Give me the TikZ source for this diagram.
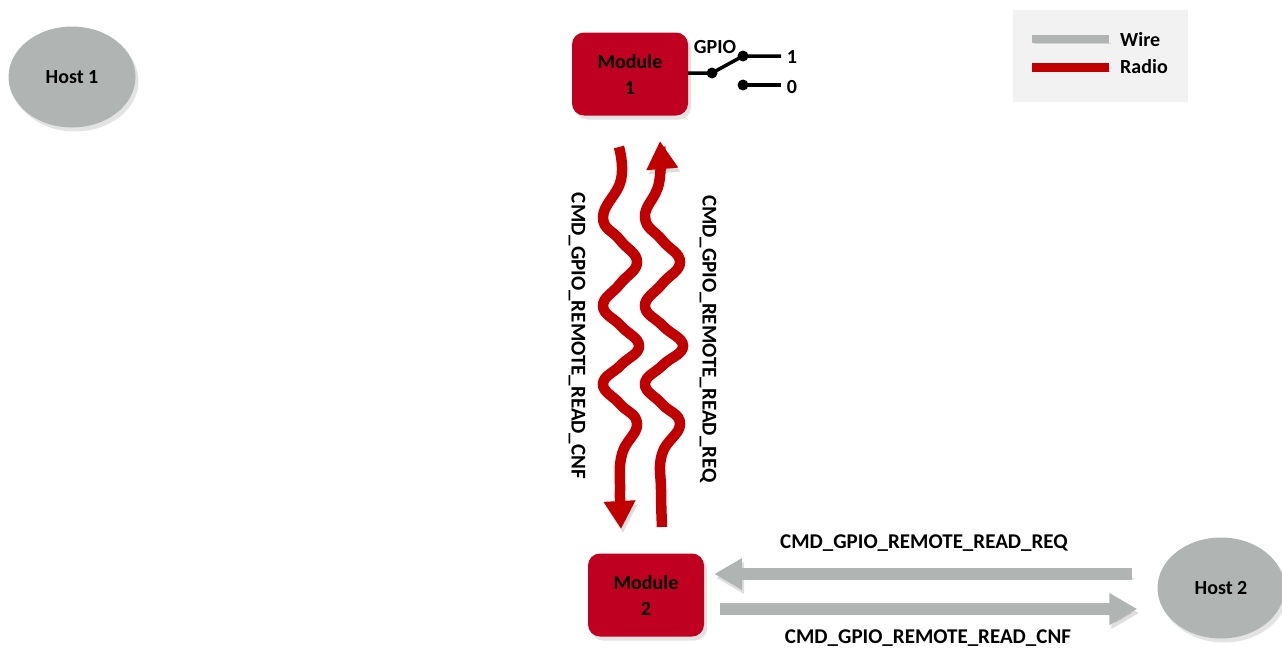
\documentclass[tikz,border=0pt]{standalone}
\usepackage{fontspec}
\setmainfont{Carlito}
\usetikzlibrary{arrows.meta,shapes.geometric,shadows}
\definecolor{modred}{RGB}{192,0,32}
\definecolor{radiored}{RGB}{192,0,0}
\definecolor{hostgray}{RGB}{176,181,179}
\definecolor{legendbg}{RGB}{242,242,242}

\begin{document}
\begin{tikzpicture}[x=1pt,y=-1pt,
	every node/.style={font=\bfseries\fontsize{20}{26}\selectfont},
	dropsh/.style={drop shadow={shadow xshift=3pt,shadow yshift=-4pt,opacity=0.22}},
	lineshadow/.style={preaction={draw=black,opacity=0.13,transform canvas={shift={(2pt,-4pt)}}}},
	host/.style={ellipse,fill=hostgray,minimum width=127pt,minimum height=101pt,inner sep=0pt,dropsh},
	module/.style={rectangle,rounded corners=12pt,fill=modred,minimum width=116pt,minimum height=83pt,align=center,dropsh},
	lbl/.style={inner sep=0pt},
	cmd/.style={lbl,font=\bfseries\fontsize{21}{26}\selectfont},
	wire/.style={draw=hostgray,line width=12pt,-{Triangle[width=30pt,length=28pt]},lineshadow},
	radio/.style={draw=radiored,line width=10.5pt,-{Triangle[width=30pt,length=28pt]},lineshadow},
	switch/.style={line width=3.5pt}]
	\useasboundingbox (0,0) rectangle (1282,653);

	\node[host] (host1) at (72,77) {Host 1};
	\node[host] (host2) at (1221,588) {Host 2};
	\node[module] (mod1) at (630,74) {Module\\1};
	\node[module] (mod2) at (646,595) {Module\\2};

	\node[fill=legendbg,minimum width=175pt,minimum height=92pt] (legend) at (1100,56) {};
	\draw[hostgray,line width=8pt,lineshadow] (1032,39) -- (1109,39);
	\draw[radiored,line width=9pt,lineshadow] (1032,67) -- (1109,67);
	\node[lbl,anchor=west] (wirelbl) at (1120,40) {Wire};
	\node[lbl,anchor=west] (radiolbl) at (1120,67) {Radio};

	\coordinate (piv) at (712,73);
	\coordinate (on) at (743,56);
	\coordinate (off) at (743,85);
	\draw[switch] (mod1.east |- piv) -- (piv) -- (on) -- ++(38,0);
	\draw[switch] (off) -- ++(38,0);
	\fill (piv) circle (5.5);
	\fill (on) circle (5.5);
	\fill (off) circle (5.5);
	\node[lbl] (gpiolbl) at (715,47) {GPIO};
	\node[lbl] (onlbl) at (792,57) {1};
	\node[lbl] (offlbl) at (792,87) {0};

	\draw[radio] plot[smooth,tension=0.75] coordinates {(619,147) (621,180) (603,217) (620,240) (637,262) (620,284) (603,306) (621,326) (639,346) (621,365) (603,384) (620,404) (637,424) (622,454) (620,490) (621,529)};
	\draw[radio] plot[smooth,tension=0.75] coordinates {(662,527) (661,490) (662,454) (680,424) (662,404) (645,384) (663,365) (683,346) (663,326) (645,306) (662,284) (680,262) (662,240) (645,217) (659,183) (660,141)};
	\node[cmd,rotate=-90] (cnfv) at (577,336) {CMD\_GPIO\_REMOTE\_READ\_CNF};
	\node[cmd,rotate=-90] (reqv) at (708,339) {CMD\_GPIO\_REMOTE\_READ\_REQ};

	\coordinate (reqy) at (0,574);
	\coordinate (cnfy) at (0,609);
	\draw[wire,shorten <=25pt,shorten >=10pt] (host2.west |- reqy) -- (mod2.east |- reqy);
	\draw[wire,shorten <=16pt,shorten >=20pt] (mod2.east |- cnfy) -- (host2.west |- cnfy);
	\node[cmd] (reqh) at (924,543) {CMD\_GPIO\_REMOTE\_READ\_REQ};
	\node[cmd] (cnfh) at (928,638) {CMD\_GPIO\_REMOTE\_READ\_CNF};
\end{tikzpicture}
\end{document}
